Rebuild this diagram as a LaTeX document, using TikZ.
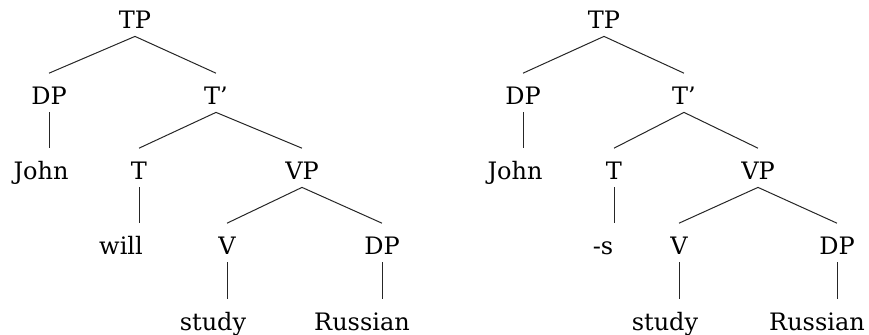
\documentclass[tikz,border=0pt]{standalone}
\usepackage{fontspec}
\setmainfont{DejaVu Serif}
\usepackage{tikz}

\begin{document}
\begin{tikzpicture}[x=0.5pt, y=-0.5pt,
        cat/.style={anchor=base, inner xsep=0pt, inner ysep=3.5pt, text height=12.2pt, text depth=0pt, font=\fontsize{12}{14}\selectfont, text=black},
        branch/.style={draw=black!85, line width=0.5pt}
    ]
        \useasboundingbox (0,0) rectangle (869,335);

        % will
        \node (tpA) [cat] at (135,29) {TP};
        \node (dpA) [cat] at (49,105) {DP};
        \node (tbarA) [cat] at (216,105) {T’};
        \node (johnA) [cat] at (41,180) {John};
        \node (tA) [cat] at (139,180) {T};
        \node (vpA) [cat] at (302,180) {VP};
        \node (willA) [cat] at (121,255) {will};
        \node (vA) [cat] at (227,255) {V};
        \node (objA) [cat] at (382,255) {DP};
        \node (studyA) [cat] at (213,331) {study};
        \node (russianA) [cat] at (362,331) {Russian};

        \draw [branch] (tpA.south) -- (dpA.north);
        \draw [branch] (tpA.south) -- (tbarA.north);
        \draw [branch] (dpA.south) -- (dpA.south |- johnA.north);
        \draw [branch] (tbarA.south) -- (tA.north);
        \draw [branch] (tbarA.south) -- (vpA.north);
        \draw [branch] (tA.south) -- (tA.south |- willA.north);
        \draw [branch] (vpA.south) -- (vA.north);
        \draw [branch] (vpA.south) -- (objA.north);
        \draw [branch] (vA.south) -- (vA.south |- studyA.north);
        \draw [branch] (objA.south) -- (objA.south |- russianA.north);

        % -s
        \node (tpB) [cat] at (604,29) {TP};
        \node (dpB) [cat] at (523,105) {DP};
        \node (tbarB) [cat] at (684,105) {T’};
        \node (johnB) [cat] at (515,180) {John};
        \node (tB) [cat] at (614,180) {T};
        \node (vpB) [cat] at (758,180) {VP};
        \node (sB) [cat] at (603,255) {-s};
        \node (vB) [cat] at (679,255) {V};
        \node (objB) [cat] at (837,255) {DP};
        \node (studyB) [cat] at (665,331) {study};
        \node (russianB) [cat] at (817,331) {Russian};

        \draw [branch] (tpB.south) -- (dpB.north);
        \draw [branch] (tpB.south) -- (tbarB.north);
        \draw [branch] (dpB.south) -- (dpB.south |- johnB.north);
        \draw [branch] (tbarB.south) -- (tB.north);
        \draw [branch] (tbarB.south) -- (vpB.north);
        \draw [branch] (tB.south) -- (tB.south |- sB.north);
        \draw [branch] (vpB.south) -- (vB.north);
        \draw [branch] (vpB.south) -- (objB.north);
        \draw [branch] (vB.south) -- (vB.south |- studyB.north);
        \draw [branch] (objB.south) -- (objB.south |- russianB.north);
    \end{tikzpicture}
\end{document}
